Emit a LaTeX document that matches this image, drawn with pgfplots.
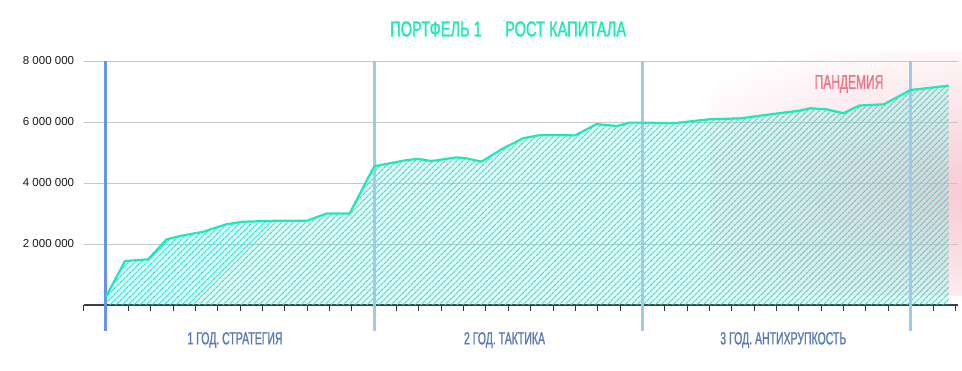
\documentclass[border=0pt]{standalone}
\usepackage{fontspec}
\setmainfont{Liberation Sans}
\newfontfamily\condA{Liberation Sans}[FakeStretch=0.68,FakeBold=1.3]
\newfontfamily\condB{Liberation Sans}[FakeStretch=0.60,FakeBold=1.1]
\usepackage{pgfplots}
\pgfplotsset{compat=1.18}
\usetikzlibrary{patterns.meta}
\definecolor{turq}{HTML}{1DE9B6}
\definecolor{hatchc}{HTML}{22E6D4}
\definecolor{yearblue}{HTML}{5A7AB2}
\definecolor{firstline}{HTML}{6495ED}
\definecolor{yearline}{HTML}{9DCAE8}
\definecolor{pand}{HTML}{F27585}
\definecolor{pinkbg}{HTML}{F7CAD4}
\definecolor{gridc}{HTML}{C7C7C7}

\pgfplotstableread{
x y
0 270000
0.85 1440000
1.89 1500000
2.71 2150000
3.3 2260000
4.34 2400000
5.4 2650000
6.14 2730000
7.49 2760000
8.98 2760000
9.87 3000000
10.9 3000000
12.0 4550000
13.45 4750000
13.97 4790000
14.57 4720000
15.69 4840000
16.13 4810000
16.8 4700000
17.78 5140000
18.67 5470000
19.42 5570000
20.3 5570000
20.98 5560000
21.95 5930000
22.85 5870000
23.44 5980000
24.0 5980000
25.4 5960000
27.0 6090000
28.4 6120000
29.5 6230000
31.0 6370000
31.5 6450000
32.2 6420000
33.0 6290000
33.7 6540000
34.8 6580000
36.0 7050000
37.7 7190000
}\capital

\begin{document}
\begin{tikzpicture}
\path[use as bounding box] (-83.6pt,-66pt) rectangle (878.4pt,305pt);
\begin{axis}[
 at={(0pt,0pt)}, anchor=south west,
 scale only axis, width=874pt, height=244pt,
 xmin=-1, xmax=38.1, ymin=0, ymax=8000000,
 axis x line*=bottom, axis y line*=left,
 y axis line style={draw=none},
 x axis line style={draw=black!75, line width=1.2pt},
 xtick={-1,0,...,38}, xticklabels={},
 tick align=outside, major tick length=6pt,
 xtick style={draw=black!80, line width=1pt},
 ytick={2000000,4000000,6000000,8000000},
 yticklabels={2 000 000,4 000 000,6 000 000,8 000 000},
 ytick style={draw=none},
 yticklabel style={font=\fontsize{11.5}{12}\selectfont, text=black!90},
 scaled y ticks=false,
 ymajorgrids, grid style={color=gridc, line width=0.8pt},
 clip=false,
]
\begin{scope}
\clip (axis cs:26.93,300000) rectangle (axis cs:38.3,8300000);
\shade[inner color=pinkbg, outer color=white] (axis cs:38.8,3700000) ellipse [x radius=360pt, y radius=165pt];
\end{scope}
\shade[top color=white, middle color=pinkbg!90, bottom color=white] (axis cs:26.86,500000) rectangle (axis cs:27.0,8200000);
\draw[gridc, line width=0.8pt] (axis cs:26.8,2000000) -- (axis cs:38.1,2000000);
\draw[gridc, line width=0.8pt] (axis cs:26.8,4000000) -- (axis cs:38.1,4000000);
\draw[gridc, line width=0.8pt] (axis cs:26.8,6000000) -- (axis cs:38.1,6000000);
\draw[gridc, line width=0.8pt] (axis cs:26.8,8000000) -- (axis cs:38.1,8000000);
\addplot[draw=none, fill=hatchc, fill opacity=0.12] table {\capital} \closedcycle;
\addplot[draw=none, pattern={Lines[angle=45,distance=4pt,line width=1.2pt]}, pattern color=hatchc] table {\capital} \closedcycle;
\draw[firstline, line width=3pt] (axis cs:0,8000000) -- ([yshift=-26pt]axis cs:0,0);
\draw[yearline, line width=3pt] (axis cs:12,8000000) -- ([yshift=-26pt]axis cs:12,0);
\draw[yearline, line width=3pt] (axis cs:24,8000000) -- ([yshift=-26pt]axis cs:24,0);
\draw[yearline, line width=3pt] (axis cs:36,8000000) -- ([yshift=-26pt]axis cs:36,0);
\addplot[turq, line width=2.2pt, line join=round] table {\capital};
\end{axis}
\node[anchor=west, inner sep=0pt, text=turq, font=\condA\fontsize{21.5}{21.5}\selectfont] at (306.4pt,276pt) {ПОРТФЕЛЬ 1};
\node[anchor=west, inner sep=0pt, text=turq, font=\condA\fontsize{21.5}{21.5}\selectfont] at (421.4pt,276pt) {РОСТ КАПИТАЛА};
\node[inner sep=0pt, text=yearblue, font=\condB\fontsize{17.5}{17.5}\selectfont] at (151.4pt,-35pt) {1 ГОД. СТРАТЕГИЯ};
\node[inner sep=0pt, text=yearblue, font=\condB\fontsize{17.5}{17.5}\selectfont] at (420.9pt,-35pt) {2 ГОД. ТАКТИКА};
\node[inner sep=0pt, text=yearblue, font=\condB\fontsize{17.5}{17.5}\selectfont] at (699.7pt,-35pt) {3 ГОД. АНТИХРУПКОСТЬ};
\node[inner sep=0pt, text=pand, font=\condB\fontsize{20}{20}\selectfont] at (765.4pt,221pt) {ПАНДЕМИЯ};
\end{tikzpicture}
\end{document}
